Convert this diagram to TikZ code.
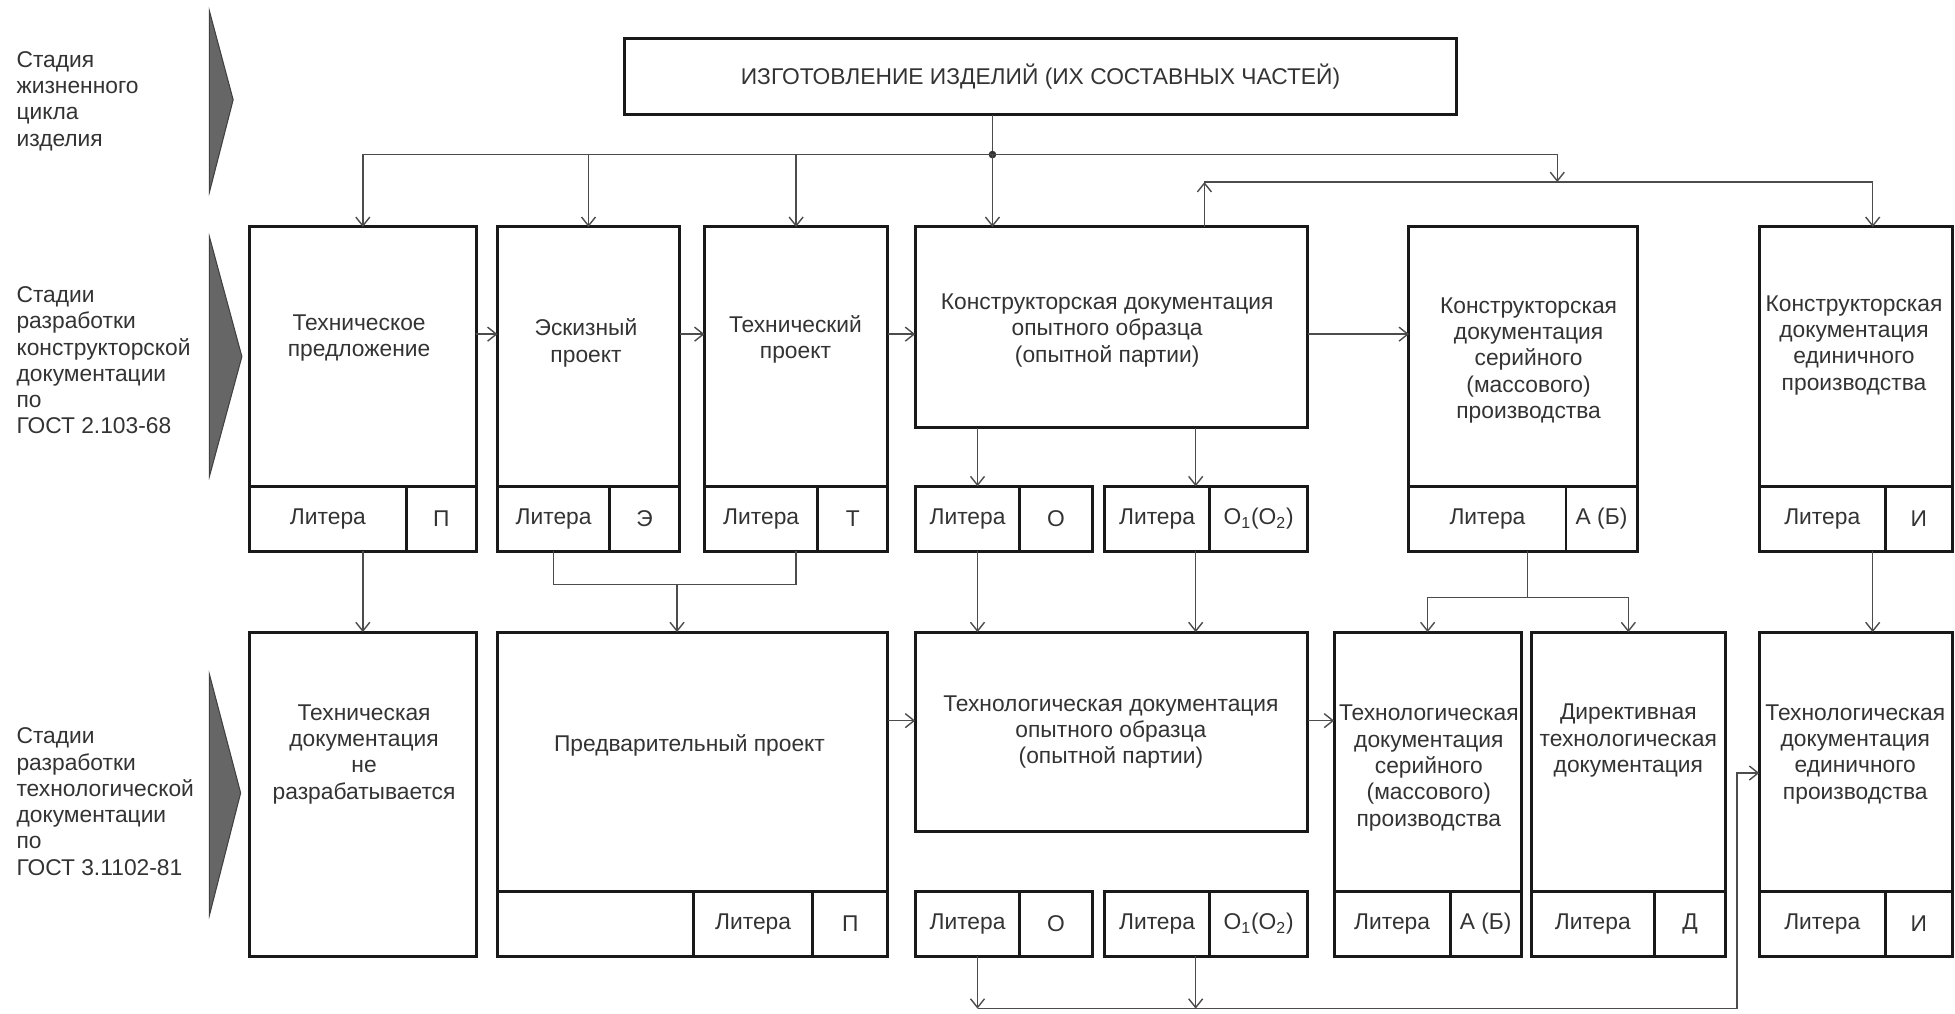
\documentclass[tikz,border=0pt]{standalone}
\usepackage{fontspec}
\setmainfont{Liberation Sans}
\usetikzlibrary{arrows.meta}

\tikzset{
    frame/.style={draw=black!90, line width=1.7pt, inner sep=0pt, outer sep=0pt, anchor=north west},
    wh/.style 2 args={minimum width=#1*0.025cm, minimum height=#2*0.025cm},
    cell/.style={frame, wh={#1}{52}},
    caption/.style={align=center},
    stage/.style={align=left, anchor=west, inner sep=0pt},
    link/.style={draw=black!70, line width=0.8pt},
    chevron/.style={fill=black!60, draw=black!75, line width=0.6pt}
}

\begin{document}
\begin{tikzpicture}[x=0.025cm, y=-0.025cm,
    >={Straight Barb[length=5pt, width=8pt]},
    every node/.style={font=\fontsize{13}{15}\selectfont, text=black!80}]
    \useasboundingbox (0, 0) rectangle (1568, 813);

    \node[stage] (s1) at (13, 81) {Стадия\\жизненного\\цикла\\изделия};
    \node[stage] (s2) at (13, 289) {Стадии\\разработки\\конструкторской\\документации\\по\\ГОСТ 2.103-68};
    \node[stage] (s3) at (13, 643) {Стадии\\разработки\\технологической\\документации\\по\\ГОСТ 3.1102-81};
    \filldraw[chevron] (168, 9) -- (187, 80) -- (168, 154) -- cycle;
    \filldraw[chevron] (168, 190) -- (194, 286) -- (168, 382) -- cycle;
    \filldraw[chevron] (168, 541) -- (193, 636) -- (168, 734) -- cycle;

    \node[frame, wh={667}{61}] (make) at (501, 31) {ИЗГОТОВЛЕНИЕ ИЗДЕЛИЙ (ИХ СОСТАВНЫХ ЧАСТЕЙ)};

    \node[frame, wh={182}{208}] (tp) at (200, 182) {};
    \node[cell=126] (tpl) at (200, 390) {Литера};
    \node[cell=56] (tpv) at (326, 390) {П};
    \node[caption] (tpt) at (288, 271) {Техническое\\предложение};

    \node[frame, wh={146}{208}] (ep) at (399, 182) {};
    \node[cell=90] (epl) at (399, 390) {Литера};
    \node[cell=56] (epv) at (489, 390) {Э};
    \node[caption] (ept) at (470, 275) {Эскизный\\проект};

    \node[frame, wh={147}{208}] (tpr) at (565, 182) {};
    \node[cell=91] (tprl) at (565, 390) {Литера};
    \node[cell=56] (tprv) at (656, 390) {Т};
    \node[caption] (tprt) at (638, 272) {Технический\\проект};

    \node[frame, wh={315}{161}] (kdo) at (734, 182) {};
    \node[caption] (kdot) at (888, 265) {Конструкторская документация\\опытного образца\\(опытной партии)};
    \node[cell=84] (kdol) at (734, 390) {Литера};
    \node[cell=58] (kdov) at (818, 390) {О};
    \node[cell=84] (kdpl) at (886, 390) {Литера};
    \node[cell=79] (kdpv) at (970, 390) {О\textsubscript{1}(О\textsubscript{2})};

    \node[frame, wh={183}{208}] (kds) at (1130, 182) {};
    \node[cell=126] (kdsl) at (1130, 390) {Литера};
    \node[cell=57] (kdsv) at (1256, 390) {А (Б)};
    \node[caption] (kdst) at (1226, 289) {Конструкторская\\документация\\серийного\\(массового)\\производства};

    \node[frame, wh={155}{208}] (kde) at (1411, 182) {};
    \node[cell=101] (kdel) at (1411, 390) {Литера};
    \node[cell=54] (kdev) at (1512, 390) {И};
    \node[caption] (kdet) at (1487, 277) {Конструкторская\\документация\\единичного\\производства};

    \node[frame, wh={182}{260}] (tdn) at (200, 507) {};
    \node[caption] (tdnt) at (292, 605) {Техническая\\документация\\не\\разрабатывается};

    \node[frame, wh={313}{208}] (pp) at (399, 507) {};
    \node[caption] (ppt) at (553, 598) {Предварительный проект};
    \node[cell=157] (ppe) at (399, 715) {};
    \node[cell=96] (ppl) at (556, 715) {Литера};
    \node[cell=60] (ppv) at (652, 715) {П};

    \node[frame, wh={315}{160}] (tdo) at (734, 507) {};
    \node[caption] (tdot) at (891, 587) {Технологическая документация\\опытного образца\\(опытной партии)};
    \node[cell=84] (tdol) at (734, 715) {Литера};
    \node[cell=58] (tdov) at (818, 715) {О};
    \node[cell=84] (tdpl) at (886, 715) {Литера};
    \node[cell=79] (tdpv) at (970, 715) {О\textsubscript{1}(О\textsubscript{2})};

    \node[frame, wh={150}{208}] (tds) at (1070, 507) {};
    \node[cell=93] (tdsl) at (1070, 715) {Литера};
    \node[cell=57] (tdsv) at (1163, 715) {А (Б)};
    \node[caption] (tdst) at (1146, 616) {Технологическая\\документация\\серийного\\(массового)\\производства};

    \node[frame, wh={156}{208}] (dtd) at (1228, 507) {};
    \node[cell=99] (dtdl) at (1228, 715) {Литера};
    \node[cell=57] (dtdv) at (1327, 715) {Д};
    \node[caption] (dtdt) at (1306, 594) {Директивная\\технологическая\\документация};

    \node[frame, wh={155}{208}] (tde) at (1411, 507) {};
    \node[cell=101] (tdel) at (1411, 715) {Литера};
    \node[cell=54] (tdev) at (1512, 715) {И};
    \node[caption] (tdet) at (1488, 605) {Технологическая\\документация\\единичного\\производства};

    \coordinate (j) at (796, 124);
    \coordinate (m) at (1249, 146);
    \coordinate (k) at (966, 146);
    \coordinate (e) at (1502, 146);
    \coordinate (ca) at (784, 0);
    \coordinate (cb) at (959, 0);
    \coordinate (r1) at (0, 268);
    \coordinate (r2) at (0, 578);
    \coordinate (r3) at (0, 620);
    \coordinate (b) at (543, 469);
    \coordinate (s) at (1225, 479);
    \coordinate (f) at (1393, 809);

    \draw[link] (make.south -| j) -- (j);
    \fill[black!80] (j) circle (2.2pt);
    \draw[link, ->] (j) -| (tp.north);
    \draw[link, ->] (j) -| (ep.north);
    \draw[link, ->] (j) -| (tpr.north);
    \draw[link, ->] (j) -- (kdo.north -| j);
    \draw[link, ->] (j) -| (m);
    \draw[link, ->] (kdo.north -| k) -- (k);
    \draw[link, ->] (k) -| (kde.north -| e);

    \draw[link, ->] (tp.east |- r1) -- (ep.west |- r1);
    \draw[link, ->] (ep.east |- r1) -- (tpr.west |- r1);
    \draw[link, ->] (tpr.east |- r1) -- (kdo.west |- r1);
    \draw[link, ->] (kdo.east |- r1) -- (kds.west |- r1);
    \draw[link, ->] (kdo.south -| ca) -- (kdol.north -| ca);
    \draw[link, ->] (kdo.south -| cb) -- (kdpl.north -| cb);

    \draw[link, ->] (tpl.south -| tdn.north) -- (tdn.north);
    \draw[link] (epl.south) |- (b);
    \draw[link] (tpr.center |- tprl.south) |- (b);
    \draw[link, ->] (b) -- (b |- pp.north);
    \draw[link, ->] (kdol.south -| ca) -- (tdo.north -| ca);
    \draw[link, ->] (kdpl.south -| cb) -- (tdo.north -| cb);
    \draw[link] (kdsl.south -| s) -- (s);
    \draw[link, ->] (s) -| (tds.north);
    \draw[link, ->] (s) -| (dtd.north);
    \draw[link, ->] (kdel.south -| e) -- (tde.north -| e);

    \draw[link, ->] (pp.east |- r2) -- (tdo.west |- r2);
    \draw[link, ->] (tdo.east |- r2) -- (tds.west |- r2);
    \draw[link, ->] (tdol.south -| ca) -- (ca |- f);
    \draw[link, ->] (tdpl.south -| cb) -- (cb |- f);
    \draw[link, ->] (ca |- f) -- (f) |- (tde.west |- r3);
\end{tikzpicture}
\end{document}
